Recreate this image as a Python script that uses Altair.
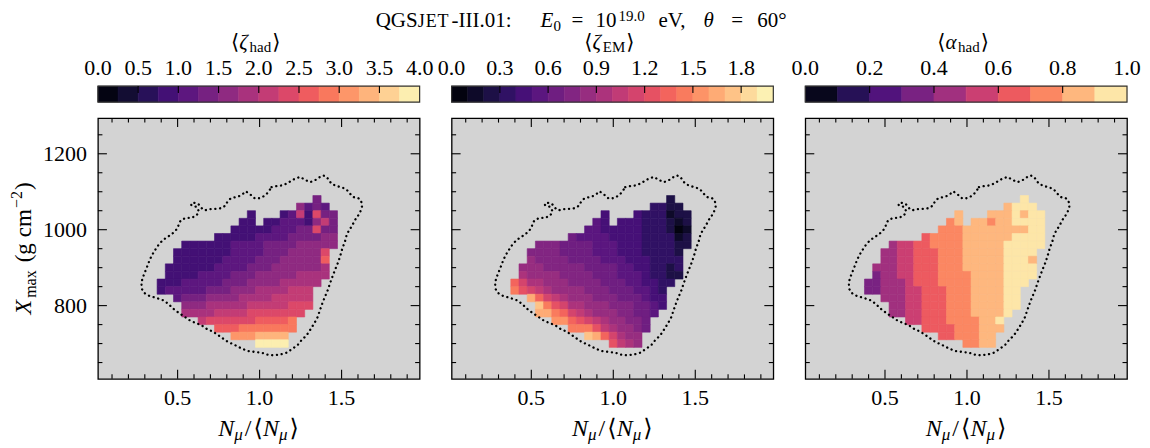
import altair as alt
import pandas as pd

FONT = "Liberation Serif, DejaVu Serif, DejaVu Sans"
W, H = 322, 261

# ---------------- data ----------------
X_DOMAIN = [0.014, 1.976]
Y_DOMAIN = [607.0, 1294.0]
X_MAJOR = [0.5, 1.0, 1.5]
X_MINOR = [0.1, 0.2, 0.3, 0.4, 0.6, 0.7, 0.8, 0.9, 1.1, 1.2, 1.3, 1.4, 1.6, 1.7, 1.8, 1.9]
Y_MAJOR = [800, 1000, 1200]
Y_MINOR = [650, 700, 750, 850, 900, 950, 1050, 1100, 1150, 1250]

# binning of the mean-value maps
GRID_X0, GRID_DX = 0.40, 0.05     # centre of first column, column width in N_mu/<N_mu>
GRID_Y0, GRID_DY = 1080, 20       # centre of first row, row height in g/cm2

# contour band index per cell (rows = Xmax bins from 1080 down to 700), (first column, codes)
ZETA_HAD_ROWS = [
    (19, "5"), (17, "6454"), (11, "3...3483955"), (10, "33.334443685"),
    (9, "3333344455955"), (7, "333334444555566"), (3, "3333334444555566666"),
    (2, "3333333444455566669"), (2, "333333444455566666a"), (1, "33333344445556666667"),
    (1, "33334444555666667777"), (0, "33344444555666677777"), (0, "3444445556667777888"),
    (2, "45556666777788888"), (3, "6667777788888999"), (3, "777788889999999"),
    (5, "8999999aaaab"), (7, "aaabbbbbbb"), (9, "cccdddd"), (12, "ffff"),
]
ZETA_EM_ROWS = [
    (19, "2"), (17, "3322"), (11, "4...4333122"), (10, "54.444333212"),
    (9, "5544444333201"), (7, "655554444333312"), (3, "7776666555444333322"),
    (2, "7777666655544433332"), (2, "8777766665554443333"), (1, "88877777666655443323"),
    (1, "98888777766655543322"), (0, "db998887777666554433"), (0, "ecba988887776665543"),
    (2, "gdba9888777666544"), (3, "hecb998887776654"), (3, "ggedba988877665"),
    (5, "ffdcba988776"), (7, "eeeca98876"), (9, "hgdb988"), (12, "ca98"),
]
ALPHA_HAD_ROWS = [
    (19, "9"), (17, "8999"), (11, "8...8889899"), (10, "78.887889999"),
    (9, "7778888888899"), (7, "677778888889999"), (3, "4556677778888899999"),
    (2, "4455666777888889999"), (2, "4455666777888889998"), (1, "44455666777888889999"),
    (1, "34455666777788889999"), (0, "33444566677778888999"), (0, "3344455666777888899"),
    (2, "44455666777888899"), (3, "4455666777888899"), (3, "445566677788889"),
    (5, "556667777889"), (7, "6666777888"), (9, "6677788"), (12, "7788"),
]

CONTOUR_X = [1.073, 1.104, 1.144, 1.175, 1.205, 1.246, 1.276, 1.307, 1.337, 1.368, 1.388, 1.409,
             1.423, 1.439, 1.470, 1.500, 1.530, 1.551, 1.571, 1.602, 1.618, 1.626, 1.618, 1.602,
             1.581, 1.565, 1.545, 1.530, 1.520, 1.504, 1.490, 1.476, 1.459, 1.443, 1.429, 1.415,
             1.398, 1.382, 1.368, 1.354, 1.333, 1.307, 1.287, 1.256, 1.232, 1.195, 1.165, 1.124,
             1.083, 1.043, 1.012, 0.972, 0.931, 0.890, 0.850, 0.809, 0.778, 0.748, 0.717, 0.677,
             0.646, 0.606, 0.575, 0.545, 0.514, 0.484, 0.463, 0.443, 0.413, 0.372, 0.331, 0.301,
             0.280, 0.280, 0.285, 0.297, 0.311, 0.325, 0.341, 0.362, 0.382, 0.402, 0.427, 0.453,
             0.480, 0.500, 0.508, 0.520, 0.549, 0.585, 0.616, 0.630, 0.616, 0.585, 0.581, 0.606,
             0.630, 0.646, 0.663, 0.697, 0.738, 0.768, 0.793, 0.805, 0.825, 0.854, 0.880, 0.900,
             0.915, 0.931, 0.951, 0.972, 1.002, 1.033, 1.053]
CONTOUR_Y = [1112, 1115, 1117, 1124, 1132, 1139, 1132, 1125, 1130, 1139, 1143, 1139,
             1130, 1121, 1115, 1112, 1106, 1095, 1086, 1083, 1077, 1064, 1051, 1038,
             1025, 1011, 998, 985, 968, 950, 928, 911, 893, 875, 858, 840,
             823, 805, 788, 770, 753, 735, 722, 709, 696, 685, 676, 671,
             669, 671, 676, 678, 680, 687, 696, 704, 713, 722, 731, 739,
             748, 755, 761, 770, 779, 788, 796, 805, 814, 820, 825, 832,
             845, 858, 871, 884, 899, 915, 931, 946, 959, 969, 978, 985,
             994, 1004, 1016, 1025, 1031, 1031, 1038, 1048, 1060, 1064, 1068, 1071,
             1066, 1057, 1051, 1054, 1055, 1057, 1064, 1075, 1083, 1086, 1089, 1095,
             1101, 1097, 1090, 1082, 1083, 1090, 1099]

PANELS = [
    dict(rows=ZETA_HAD_ROWS, step=0.25, n=16, cb_ticks=[0.5, 1.0, 1.5, 2.0, 2.5, 3.0, 3.5],
         cb_labels=[0.0, 0.5, 1.0, 1.5, 2.0, 2.5, 3.0, 3.5, 4.0], sym="ζ", sub="had"),
    dict(rows=ZETA_EM_ROWS, step=0.1, n=20, cb_ticks=[0.3, 0.6, 0.9, 1.2, 1.5, 1.8],
         cb_labels=[0.0, 0.3, 0.6, 0.9, 1.2, 1.5, 1.8], sym="ζ", sub="EM"),
    dict(rows=ALPHA_HAD_ROWS, step=0.1, n=10, cb_ticks=[0.2, 0.4, 0.6, 0.8],
         cb_labels=[0.0, 0.2, 0.4, 0.6, 0.8, 1.0], sym="α", sub="had"),
]

# ---------------- text layout helpers ----------------
WIDTHS = {' ': .25, '(': .333, ')': .333, '-': .333, '.': .25, ',': .25, ':': .278, '=': .564,
          '/': .278, '°': .4, '−': .564, 'Q': .722, 'G': .722, 'S': .556, 'J': .389, 'E': .611,
          'T': .611, 'I': .333, 'V': .722, 'M': .889, 'N': .722, 'X': .722, 'a': .444, 'c': .444,
          'd': .5, 'e': .444, 'g': .5, 'h': .5, 'm': .778, 'x': .5, '⟨': .4, '⟩': .4,
          'ζ': .44, 'α': .55, 'μ': .5, 'θ': .5}
ITALIC = {'E': .611, 'N': .667, 'X': .611}


def text_w(s, size, italic):
    return sum((ITALIC.get(ch) if italic and ch in ITALIC else WIDTHS.get(ch, .5)) for ch in s) * size


def text_piece(t, x, y, size, italic=False, angle=None, align='left', baseline='alphabetic'):
    kw = dict(font=FONT, fontSize=size, fontStyle='italic' if italic else 'normal',
              align=align, baseline=baseline, color='black')
    if angle is not None:
        kw['angle'] = angle
    return alt.Chart(pd.DataFrame({'t': [t]})).mark_text(**kw).encode(
        x=alt.value(x), y=alt.value(y), text='t:N')


def compose(pieces, cx, cy, vertical=False):
    widths = [text_w(p[0], p[1], p[3]) for p in pieces]
    total = sum(widths) + sum(p[4] for p in pieces[:-1])
    out = []
    if vertical:
        pos = cy + total / 2
        for p, w in zip(pieces, widths):
            out.append(text_piece(p[0], cx + p[2], pos, p[1], p[3], angle=270))
            pos -= w + p[4]
    else:
        pos = cx - total / 2
        for p, w in zip(pieces, widths):
            out.append(text_piece(p[0], pos, cy + p[2], p[1], p[3]))
            pos += w + p[4]
    return out


# ---------------- frames ----------------
def grid_frame(rows, step):
    recs = []
    for r, (start, codes) in enumerate(rows):
        for k, ch in enumerate(codes):
            if ch == '.':
                continue
            c = start + k
            xc = GRID_X0 + GRID_DX * c
            yc = GRID_Y0 - GRID_DY * r
            recs.append(dict(x0=xc - GRID_DX / 2, x1=xc + GRID_DX / 2,
                             y0=yc - GRID_DY / 2, y1=yc + GRID_DY / 2,
                             v=(int(ch, 36) + 0.5) * step))
    return pd.DataFrame(recs)


def to_bar(v, vmax):
    return X_DOMAIN[0] + v / vmax * (X_DOMAIN[1] - X_DOMAIN[0])


XS = alt.Scale(domain=X_DOMAIN, nice=False, zero=False)
YS = alt.Scale(domain=Y_DOMAIN, nice=False, zero=False)
contour_df = pd.DataFrame({'x': CONTOUR_X + CONTOUR_X[:1], 'y': CONTOUR_Y + CONTOUR_Y[:1],
                           'o': list(range(len(CONTOUR_X) + 1))})


def xq(f):
    return alt.X(f, scale=XS, axis=None, title=None)


def yq(f):
    return alt.Y(f, scale=YS, axis=None, title=None)


def tick_layers(with_ylabels):
    out = []
    for vals, ln in ((X_MAJOR, 9), (X_MINOR, 4.5)):
        d = pd.DataFrame({'v': vals})
        for y0, y1 in ((H, H - ln), (0, ln)):
            out.append(alt.Chart(d).mark_rule(color='black', strokeWidth=1.1).encode(
                x=xq('v:Q'), y=alt.value(y0), y2=alt.value(y1)))
    for vals, ln in ((Y_MAJOR, 9), (Y_MINOR, 4.5)):
        d = pd.DataFrame({'v': vals})
        for x0, x1 in ((0, ln), (W, W - ln)):
            out.append(alt.Chart(d).mark_rule(color='black', strokeWidth=1.1).encode(
                y=yq('v:Q'), x=alt.value(x0), x2=alt.value(x1)))
    xl = pd.DataFrame({'v': X_MAJOR, 'lab': ['%.1f' % v for v in X_MAJOR]})
    out.append(alt.Chart(xl).mark_text(font=FONT, fontSize=22, align='center',
                                       baseline='alphabetic', color='black').encode(
        x=xq('v:Q'), y=alt.value(H + 26), text='lab:N'))
    if with_ylabels:
        yl = pd.DataFrame({'v': Y_MAJOR, 'lab': ['%d' % v for v in Y_MAJOR]})
        out.append(alt.Chart(yl).mark_text(font=FONT, fontSize=22, align='right',
                                           baseline='middle', color='black').encode(
            y=yq('v:Q'), x=alt.value(-11), text='lab:N'))
    return out


def panel(i, spec):
    step, n = spec['step'], spec['n']
    vmax = step * n
    cs = alt.Scale(type='linear', scheme='magma', domain=[0, vmax], nice=False, zero=False)
    layers = []
    if i == 0:
        layers.append(alt.Chart(pd.DataFrame({'a': [0]})).mark_rect(opacity=0).encode(
            x=alt.value(-89), x2=alt.value(0), y=alt.value(-108), y2=alt.value(0)))
    heat = alt.Chart(grid_frame(spec['rows'], step)).mark_rect(strokeWidth=0.6).encode(
        x=xq('x0:Q'), x2='x1:Q', y=yq('y0:Q'), y2='y1:Q',
        color=alt.Color('v:Q', scale=cs, legend=None),
        stroke=alt.Stroke('v:Q', scale=cs, legend=None))
    layers.append(heat)
    layers.append(alt.Chart(contour_df).mark_line(
        color='black', strokeWidth=2.3, strokeDash=[0.1, 4.7], strokeCap='round').encode(
        x=xq('x:Q'), y=yq('y:Q'), order='o:Q'))
    layers += tick_layers(i == 0)

    # colour bar above the panel
    lo = [step * k for k in range(n)]
    cb = pd.DataFrame({'cx0': [to_bar(v, vmax) for v in lo],
                       'cx1': [to_bar(v + step, vmax) for v in lo],
                       'v': [v + step / 2 for v in lo]})
    layers.append(alt.Chart(cb).mark_rect(strokeWidth=0.6).encode(
        x=xq('cx0:Q'), x2='cx1:Q', y=alt.value(-32), y2=alt.value(-16),
        color=alt.Color('v:Q', scale=cs, legend=None),
        stroke=alt.Stroke('v:Q', scale=cs, legend=None)))
    layers.append(alt.Chart(pd.DataFrame({'a': [0]})).mark_rect(
        filled=False, color='#333333', strokeWidth=1.2).encode(
        x=alt.value(0), x2=alt.value(W), y=alt.value(-32), y2=alt.value(-16)))
    layers.append(alt.Chart(pd.DataFrame({'cx': [to_bar(v, vmax) for v in spec['cb_ticks']]}))
                  .mark_rule(color='black', strokeWidth=1.1).encode(
        x=xq('cx:Q'), y=alt.value(-32), y2=alt.value(-25)))
    lab = pd.DataFrame({'cx': [to_bar(v, vmax) for v in spec['cb_labels']],
                        'lab': ['%.1f' % v for v in spec['cb_labels']]})
    layers.append(alt.Chart(lab).mark_text(
        font=FONT, fontSize=22, baseline='alphabetic', align='center', color='black').encode(
        x=xq('cx:Q'), y=alt.value(-43), text='lab:N'))
    layers += compose([("⟨", 21, 0, False, 0), (spec['sym'], 21, 0, True, 1),
                       (spec['sub'], 15, 3, False, 1), ("⟩", 21, 0, False, 0)], W / 2 - 3, -69)
    # x axis title
    layers += compose([("N", 24, 0, True, 0), ("μ", 17, 4, True, 2), ("/", 24, 0, False, 2),
                       ("⟨", 24, 0, False, 0), ("N", 24, 0, True, 0), ("μ", 17, 4, True, 2),
                       ("⟩", 24, 0, False, 0)], W / 2, H + 57)
    if i == 0:
        layers += compose([("X", 24, 0, True, 2), ("max", 16, 5, False, 8),
                           ("(g", 23, 0, False, 6), ("cm", 23, 0, False, 1),
                           ("−2", 16, -9, False, 1), (")", 23, 0, False, 0)],
                          -67, H / 2, vertical=True)
    if i == 1:
        # suptitle pieces, left edges relative to this panel
        for t, x, dy, size, it in (("QGS", -76, 0, 21, False), ("J", -34, 0, 18, False),
                                   ("E", -26, 0, 18, False), ("T", -14, 0, 18, False),
                                   ("-III.01:", 0, 0, 21, False), ("E", 89, 0, 21, True),
                                   ("0", 102, 4, 15, False), ("=", 120, 0, 21, False),
                                   ("10", 144, 0, 21, False), ("19.0", 167, -6, 15, False),
                                   ("eV,", 207, 0, 21, False), ("θ", 252, 0, 21, True),
                                   ("=", 280, 0, 21, False), ("60°", 306, 0, 21, False)):
            layers.append(text_piece(t, x, -91 + dy, size, it))
    return alt.layer(*layers).properties(width=W, height=H)


chart = alt.hconcat(*[panel(i, s) for i, s in enumerate(PANELS)], spacing=32, bounds='flush') \
    .resolve_scale(color='independent', stroke='independent', x='independent', y='independent') \
    .properties(padding=0) \
    .configure_view(fill='#d3d3d3', stroke='black', strokeWidth=1.3)

chart.save("out.html", embed_options={"renderer": "svg", "actions": False})
